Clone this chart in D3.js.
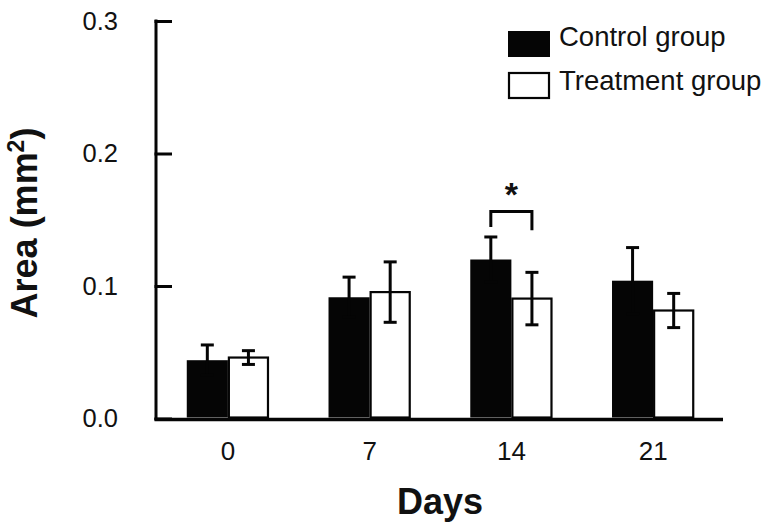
<!DOCTYPE html>
<html>
<head>
<meta charset="utf-8">
<script src="https://cdn.jsdelivr.net/npm/d3@7"></script>
<style>
  html, body { margin: 0; padding: 0; background: #fff; }
  svg { display: block; font-family: "Liberation Sans", Arial, Helvetica, sans-serif; }
</style>
</head>
<body>
<svg id="chart" width="772" height="532"></svg>
<script>
// ---- data ----
const days = ["0", "7", "14", "21"];
const series = ["Control group", "Treatment group"];
const controlMean = [0.044, 0.0915, 0.120, 0.104];
const controlErr  = [0.0115, 0.0152, 0.017, 0.025];
const treatMean   = [0.046, 0.0954, 0.0905, 0.0815];
const treatErr    = [0.0052, 0.0228, 0.0198, 0.0129];
const yTicks = [0.0, 0.1, 0.2, 0.3];
// significance annotation: day 14
const sigDay = "14";
const sigLabel = "*";

// ---- layout ----
const svg = d3.select("#chart");
const yAxisX = 156, baseY = 418.5, topY = 21;

const y = d3.scaleLinear().domain([0, 0.3]).range([baseY, topY]);
const x0 = d3.scaleBand().domain(days).range([157, 724]).paddingInner(0.42).paddingOuter(0.21);
const x1 = d3.scaleBand().domain(series).range([0, x0.bandwidth()]);

const rows = days.map((d, i) => ({
  day: d,
  vals: [
    {s: series[0], m: controlMean[i], e: controlErr[i]},
    {s: series[1], m: treatMean[i], e: treatErr[i]}
  ]
}));

// bars
const g = svg.append("g");
const groups = g.selectAll("g.day").data(rows).join("g")
  .attr("transform", d => `translate(${x0(d.day)},0)`);

groups.selectAll("rect").data(d => d.vals).join("rect")
  .attr("x", d => x1(d.s) + (d.s === series[1] ? 1 : 0))
  .attr("width", d => x1.bandwidth() - (d.s === series[1] ? 2 : 0))
  .attr("y", d => y(d.m))
  .attr("height", d => y(0) - y(d.m) - 1)
  .attr("fill", d => d.s === series[0] ? "#050505" : "#fff")
  .attr("stroke", d => d.s === series[0] ? "none" : "#050505")
  .attr("stroke-width", 2.2);

// error bars
const cap = 6.5;
const eb = groups.selectAll("g.err").data(d => d.vals).join("g")
  .attr("stroke", "#050505").attr("stroke-width", 3);
eb.append("line")
  .attr("x1", d => x1(d.s) + x1.bandwidth() / 2)
  .attr("x2", d => x1(d.s) + x1.bandwidth() / 2)
  .attr("y1", d => y(d.m - d.e)).attr("y2", d => y(d.m + d.e));
eb.append("line")
  .attr("x1", d => x1(d.s) + x1.bandwidth() / 2 - cap)
  .attr("x2", d => x1(d.s) + x1.bandwidth() / 2 + cap)
  .attr("y1", d => y(d.m + d.e)).attr("y2", d => y(d.m + d.e));
eb.append("line")
  .attr("x1", d => x1(d.s) + x1.bandwidth() / 2 - cap)
  .attr("x2", d => x1(d.s) + x1.bandwidth() / 2 + cap)
  .attr("y1", d => y(d.m - d.e)).attr("y2", d => y(d.m - d.e));

// significance bracket
const cx0 = x0(sigDay) + x1(series[0]) + x1.bandwidth() / 2;
const cx1 = x0(sigDay) + x1(series[1]) + x1.bandwidth() / 2;
svg.append("path")
  .attr("d", `M${cx0},${y(0.1445)}V${y(0.1563)}H${cx1}V${y(0.142)}`)
  .attr("fill", "none").attr("stroke", "#050505").attr("stroke-width", 3);
svg.append("text")
  .attr("x", (cx0 + cx1) / 2).attr("y", y(0.1563) - 5)
  .attr("text-anchor", "middle").attr("font-size", 34).attr("font-weight", "bold")
  .attr("fill", "#111")
  .text(sigLabel);

// y axis
const yAxis = d3.axisLeft(y).tickValues(yTicks).tickFormat(d3.format(".1f"))
  .tickSizeInner(-16).tickSizeOuter(0).tickPadding(38);
const ya = svg.append("g").attr("transform", `translate(${yAxisX},0)`).call(yAxis);
ya.select(".domain").attr("stroke", "#050505").attr("stroke-width", 3)
  .attr("d", `M0,${topY - 1.5}V${baseY + 1.5}`);
ya.selectAll(".tick line").attr("stroke", "#050505").attr("stroke-width", 3).attr("x1", -1.5);
ya.selectAll(".tick text").attr("font-size", 25.5).attr("fill", "#111")
  .attr("font-family", "Liberation Sans, Arial, sans-serif");

// x axis
const xAxis = d3.axisBottom(x0).tickSize(0).tickPadding(22);
const xa = svg.append("g").attr("transform", `translate(0,${baseY + 1})`).call(xAxis);
xa.select(".domain").attr("stroke", "#050505").attr("stroke-width", 3.5)
  .attr("d", `M${yAxisX - 1.5},0H723`);
xa.selectAll(".tick text").attr("font-size", 26).attr("fill", "#111")
  .attr("font-family", "Liberation Sans, Arial, sans-serif");

// axis titles
svg.append("text")
  .attr("x", 440).attr("y", 514)
  .attr("text-anchor", "middle").attr("font-size", 36).attr("font-weight", "bold").attr("fill", "#111")
  .text("Days");

const yt = svg.append("text")
  .attr("transform", "translate(37,223) rotate(-90)")
  .attr("text-anchor", "middle").attr("font-size", 36).attr("font-weight", "bold").attr("fill", "#111");
yt.append("tspan").text("Area (mm");
yt.append("tspan").attr("font-size", 23).attr("dy", -13).text("2");
yt.append("tspan").attr("dy", 13).text(")");

// legend
const legend = svg.append("g");
const lg = legend.selectAll("g").data(series).join("g")
  .attr("transform", (d, i) => `translate(508,${31 + i * 41})`);
lg.append("rect")
  .attr("x", d => d === series[1] ? 1 : 0)
  .attr("y", d => d === series[1] ? 1 : 0)
  .attr("width", d => d === series[1] ? 40 : 42)
  .attr("height", d => d === series[1] ? 25 : 26)
  .attr("fill", d => d === series[0] ? "#050505" : "#fff")
  .attr("stroke", d => d === series[0] ? "none" : "#050505")
  .attr("stroke-width", 2.2);
lg.append("text")
  .attr("x", 51).attr("y", (d, i) => i === 0 ? 15 : 18)
  .attr("font-size", 27.5).attr("fill", "#111")
  .text(d => d);
</script>
</body>
</html>
